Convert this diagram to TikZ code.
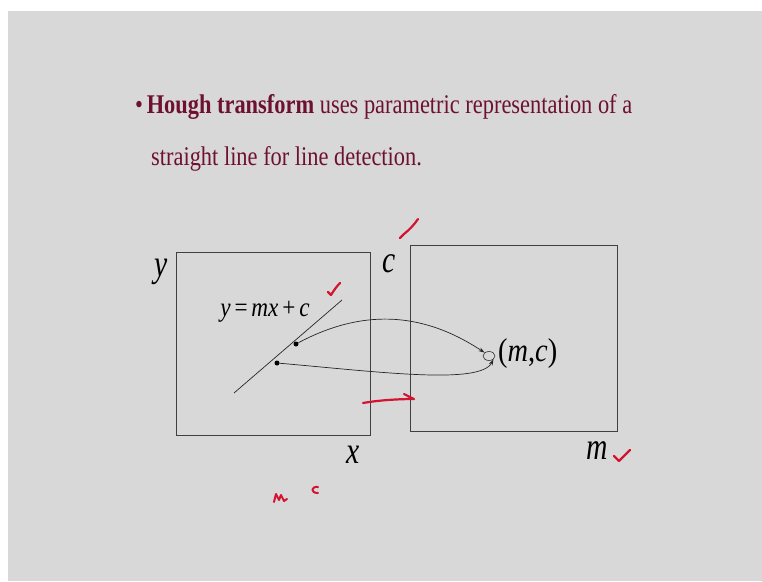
\documentclass[tikz,border=0pt]{standalone}
\usepackage{fontspec}
\setmainfont{Liberation Serif}
\usetikzlibrary{arrows.meta,shapes.geometric}
\definecolor{slidebg}{HTML}{D8D8D8}
\definecolor{maroon}{HTML}{6E1030}
\definecolor{pen}{HTML}{D21430}
\newcommand{\nrw}[2][0.84]{\scalebox{#1}[1]{#2}}
\begin{document}
\begin{tikzpicture}[x=1pt,y=-1pt,
  box/.style={draw=black!75,line width=0.8pt},
  lbl/.style={font=\fontsize{38}{38}\selectfont\itshape,inner sep=0pt},
  ink/.style={draw=pen,line width=2.2pt,line cap=round,line join=round},
  conn/.style={draw=black!85,line width=0.7pt,-{Stealth[length=6pt,width=4pt]}}]
\useasboundingbox (0,0) rectangle (762,581);
\fill[white] (0,0) rectangle (762,581);
\fill[slidebg] (8,11) rectangle (762,581);
% title
\node[anchor=base west,inner sep=0pt,text=maroon,font=\fontsize{27}{27}\selectfont] (t1) at (135,113)
  {\nrw[0.83]{\textbullet\,\textbf{Hough transform} uses parametric representation of a}};
\node[anchor=base west,inner sep=0pt,text=maroon,font=\fontsize{27}{27}\selectfont] (t2) at (151,165)
  {\nrw[0.83]{straight line for line detection.}};
% boxes
\draw[box] (176,252) rectangle (370,435);
\draw[box] (410,245) rectangle (617,431);
% axis labels
\node[lbl] (ly) at (161,272) {\nrw[0.78]{y}};
\node[lbl] (lc) at (389,264) {\nrw[0.78]{c}};
\node[lbl] (lx) at (353,455) {\nrw[0.78]{x}};
\node[lbl] (lm) at (597,451) {\nrw[0.78]{m}};
% line and points
\coordinate (la) at (234,393);
\coordinate (lb) at (342,300);
\draw[black!85,line width=0.7pt] (la) -- (lb);
\node[circle,fill=black,inner sep=0pt,minimum size=5pt] (p1) at (296,344) {};
\node[circle,fill=black,inner sep=0pt,minimum size=5pt] (p2) at (277,363) {};
\node[inner sep=0pt,font=\fontsize{27}{27}\selectfont] (eq) at (265,312) {\nrw[0.86]{\textit{y}\,=\,\textit{mx}\,+\,\textit{c}}};
% target
\node[draw=black!80,ellipse,line width=0.6pt,inner sep=0pt,minimum width=12pt,minimum height=9pt] (e) at (489,356) {};
\node[anchor=west,inner sep=0pt,font=\fontsize{33}{33}\selectfont] (mc) at (498,354) {\nrw[0.86]{(\textit{m},\textit{c})}};
\draw[conn] (p1) .. controls (360,310) and (420,310) .. (e.north west);
\draw[conn] (p2) .. controls (380,372) and (480,385) .. (e.south east);
% red annotations
\draw[ink] (400,238) -- (404,234) .. controls (409,230) and (414,225) .. (418,219);
\draw[ink] (328,292) -- (331,295) .. controls (334,290) and (337,286) .. (340,283);
\draw[ink] (363,403) .. controls (380,400) and (400,399) .. (414,399) -- (404,394);
\draw[ink] (614,456) -- (619,461) .. controls (623,457) and (627,453) .. (630,450);
\draw[ink,line width=2pt] (274,502) -- (276,494) -- (279,500) -- (281,495) -- (284,501) -- (287,499);
\draw[ink,line width=2pt] (318,487) .. controls (311,486) and (310,493) .. (318,493);
\end{tikzpicture}
\end{document}
